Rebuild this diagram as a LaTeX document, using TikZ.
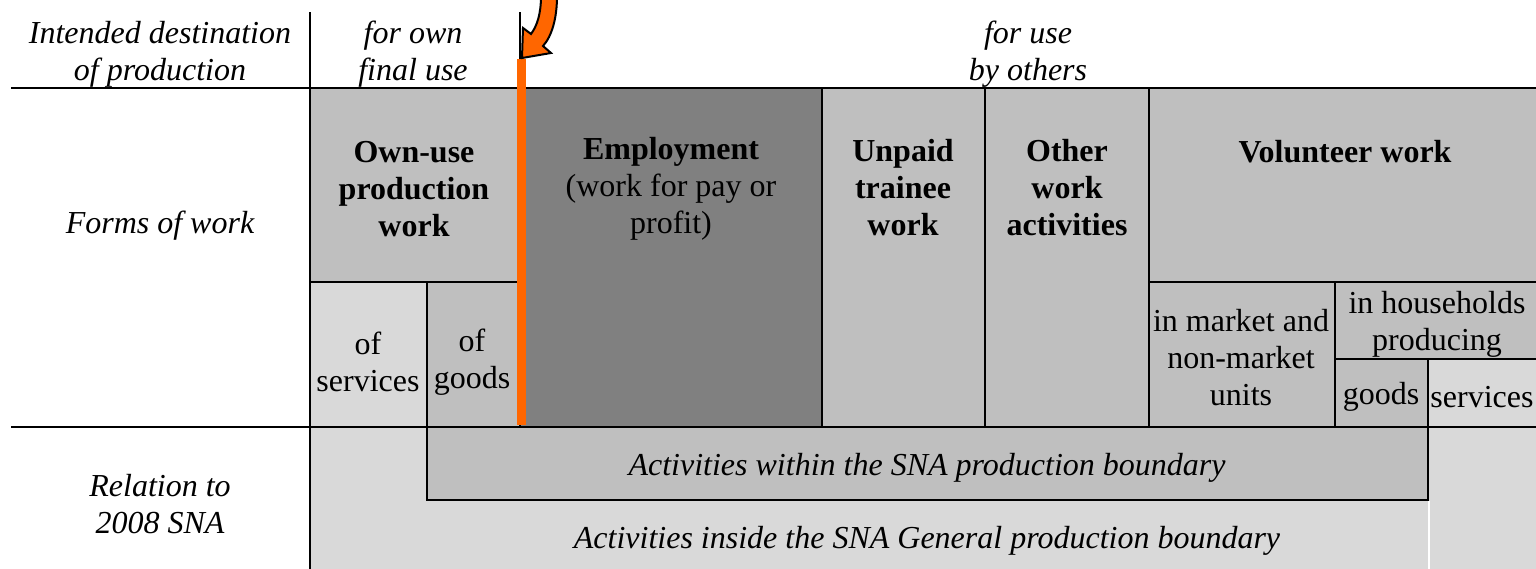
\documentclass[tikz,border=0pt]{standalone}
\usepackage{fontspec}
\setmainfont{Liberation Serif}
\definecolor{gA}{HTML}{BFBFBF}
\definecolor{gB}{HTML}{D9D9D9}
\definecolor{gC}{HTML}{808080}
\definecolor{orng}{HTML}{FF6600}
\begin{document}
\begin{tikzpicture}[x=0.5pt,y=-0.5pt,
  cell/.style={draw=black, line width=1.4pt},
  rule/.style={draw=black, line width=1.4pt},
  lbl/.style={align=center, font=\fontsize{16}{18.5}\selectfont, inner sep=0pt},
  ilbl/.style={lbl, font=\fontsize{16}{18.5}\selectfont\itshape},
  blbl/.style={lbl, font=\fontsize{16}{18.5}\selectfont\bfseries}]
\useasboundingbox (0,0) rectangle (1536,568);
\fill[white] (0,0) rectangle (1536,568);
% relation row background
\fill[gB] (310,427) rectangle (1540,570);
% cells
\draw[cell,fill=gA] (310,88) rectangle (520,282);
\draw[cell,fill=gB] (310,282) rectangle (427,427);
\draw[cell,fill=gA] (427,282) rectangle (520,427);
\draw[cell,fill=gC] (520,88) rectangle (822,427);
\draw[cell,fill=gA] (822,88) rectangle (985,427);
\draw[cell,fill=gA] (985,88) rectangle (1149,427);
\draw[cell,fill=gA] (1149,88) rectangle (1545,282);
\draw[cell,fill=gA] (1149,282) rectangle (1335,427);
\draw[cell,fill=gA] (1335,282) rectangle (1545,359);
\draw[cell,fill=gA] (1335,359) rectangle (1428,427);
\draw[cell,fill=gB] (1428,359) rectangle (1545,427);
\draw[cell,fill=gA] (427,427) rectangle (1428,500);
\draw[white, line width=1pt] (1429,501) -- (1429,570);
% rules
\draw[rule] (11,88) -- (1540,88);
\draw[rule] (11,427) -- (1540,427);
\draw[rule] (310,12) -- (310,570);
\draw[rule] (520,12) -- (520,60);
% orange marker
\fill[orng] (517,59) rectangle (526,425);
\filldraw[fill=orng, draw=black, line width=1pt]
  (541,-4) .. controls (541,14) and (537,26) .. (531,34)
  -- (523,28) -- (522,58) -- (551,53) -- (543,46)
  .. controls (552,36) and (557,18) .. (557,-4) -- cycle;
% header texts
\node[ilbl] (dest) at (160,54) {Intended destination\\of production};
\node[ilbl] (ownfin) at (413,54) {for own\\final use};
\node[ilbl] (byoth) at (1028,54) {for use\\by others};
\node[ilbl] (forms) at (160,226) {Forms of work};
\node[ilbl] (rel) at (160,504) {Relation to\\2008 SNA};
% forms of work
\node[blbl] (ownuse) at (414,189) {Own-use\\production\\work};
\node[lbl] (ofserv) at (368,362) {of\\services};
\node[lbl] (ofgoods) at (472,362) {of\\goods};
\node[lbl] (empl) at (671,189) {\textbf{Employment}\\(work for pay or\\profit)};
\node[blbl] (trainee) at (903,188) {Unpaid\\trainee\\work};
\node[blbl] (other) at (1067,188) {Other\\work\\activities};
\node[blbl] (vol) at (1345,152) {Volunteer work};
\node[lbl] (mkt) at (1241,358) {in market and\\non-market\\units};
\node[lbl] (hh) at (1437,324) {in households\\producing};
\node[lbl] (hgoods) at (1381,397) {goods};
\node[lbl] (hserv) at (1482,397) {services};
% relation to SNA
\node[ilbl] (within) at (927,468) {Activities within the SNA production boundary};
\node[ilbl] (inside) at (927,541) {Activities inside the SNA General production boundary};
\end{tikzpicture}
\end{document}
